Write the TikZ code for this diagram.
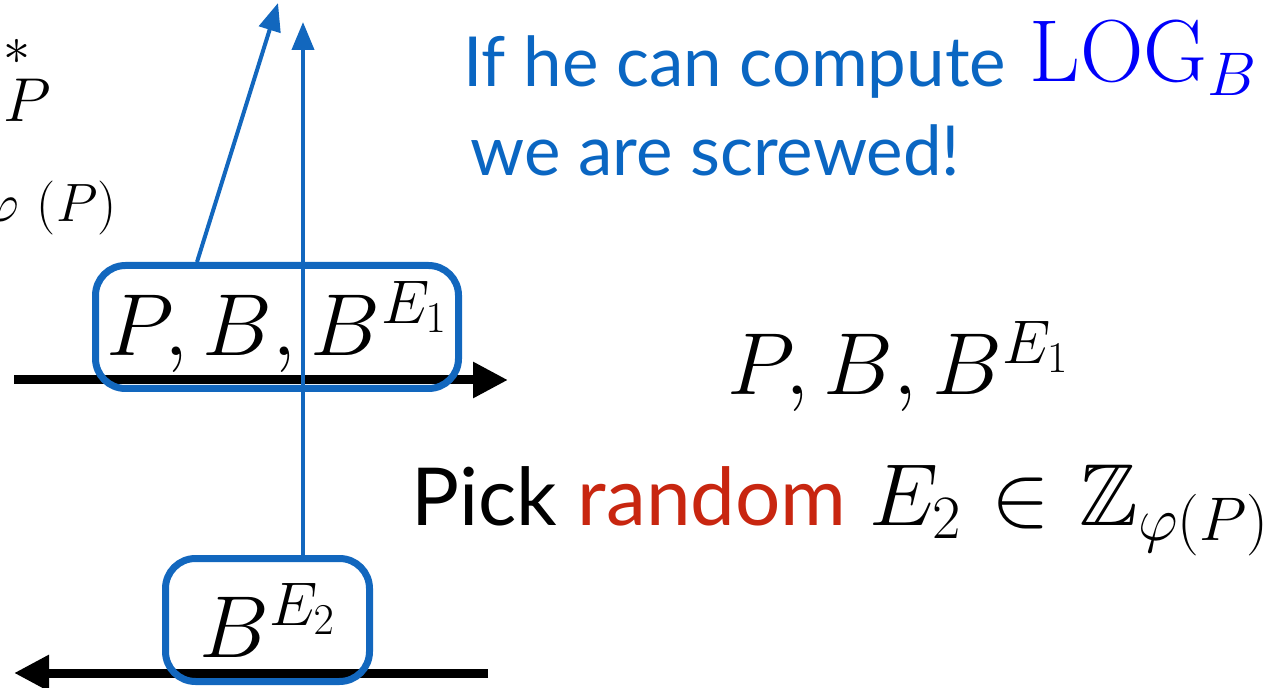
\RequirePackage{fix-cm}
\documentclass[tikz,border=0pt]{standalone}
\usepackage{amsmath}
\usepackage{amssymb}
\usepackage{fontspec}
\newfontfamily\gillish{Lato}
\usetikzlibrary{positioning, arrows.meta}

\definecolor{boxblue}{RGB}{18,103,190}
\definecolor{textblue}{RGB}{10,102,194}
\definecolor{logblue}{RGB}{0,0,250}
\definecolor{pickred}{RGB}{200,38,16}

\newcommand{\mathsize}{\fontsize{44}{52}\selectfont}
\newcommand{\wordsize}{\fontsize{34.5}{42}\selectfont}
\newcommand{\picksize}{\fontsize{40}{48}\selectfont}

\begin{document}
\begin{tikzpicture}[
    x=0.5pt, y=-0.5pt, % one unit is one pixel of the slide
    valbox/.style={draw=boxblue, line width=3.5pt, rounded corners=15pt, minimum height=61.5pt, inner sep=0pt, font=\mathsize},
    msgarrow/.style={-{Triangle[length=17.5pt,width=17pt]}, line width=4.5pt, black},
    evearrow/.style={-{Triangle[length=14pt,width=11pt]}, line width=2pt, boxblue},
    words/.style={anchor=base west, inner sep=0pt, font=\gillish\wordsize},
    every node/.style={align=left}
]
\useasboundingbox (0,0) rectangle (1283,688);

% left margin, cut off by the page
\node[anchor=base west, inner sep=0pt, font=\fontsize{31}{36}\selectfont] (group) at (3,122)
    {$\rlap{\raisebox{28.5pt}{\fontsize{27}{30}\selectfont$*$}}P$};
\node[anchor=base east, inner sep=0pt, font=\fontsize{27}{32}\selectfont] (order) at (117,222) {$\varphi\hspace{9pt}(P)$};

% ends of the messages
\coordinate (sendL) at (14,380);
\coordinate (sendR) at (508,380);
\coordinate (replyR) at (488,673);
\coordinate (replyL) at (14,673);

% messages
\draw[msgarrow] (sendL) -- (sendR);
\draw[msgarrow] (replyR) -- (replyL);

% what goes over the wire
\node[valbox, minimum width=181.5pt] (sent) at (277,327) {$P, B, B^{E_1}$};
\node[valbox, minimum width=102pt] (reply) at (267.5,620) {$B^{E_2}$};

% eavesdropper
\coordinate (leak) at (278,3);
\coordinate (tap) at (303,22);
\draw[evearrow] ([xshift=-40pt]sent.north) -- (leak);
\draw[evearrow] (reply.north -| tap) -- (tap);

% right side
\node[words, textblue] (threat) at (463,87) {If he can compute\hspace{3pt} \raisebox{2.5pt}{\mathsize\color{logblue}$\mathrm{LOG}_B$}};
\node[words, textblue] (screwed) at (470,176) {we are screwed!};
\node[anchor=base west, inner sep=0pt, font=\mathsize] (received) at (727,395) {$P, B, B^{E_1}$};
\node[words, font=\gillish\picksize] (pick) at (411,525)
    {Pick \textcolor{pickred}{random}\hspace{1pt} {\mathsize\thickmuskip=6mu$E_2 \in \mathbb{Z}_{\varphi(P)}$}};
\end{tikzpicture}
\end{document}
